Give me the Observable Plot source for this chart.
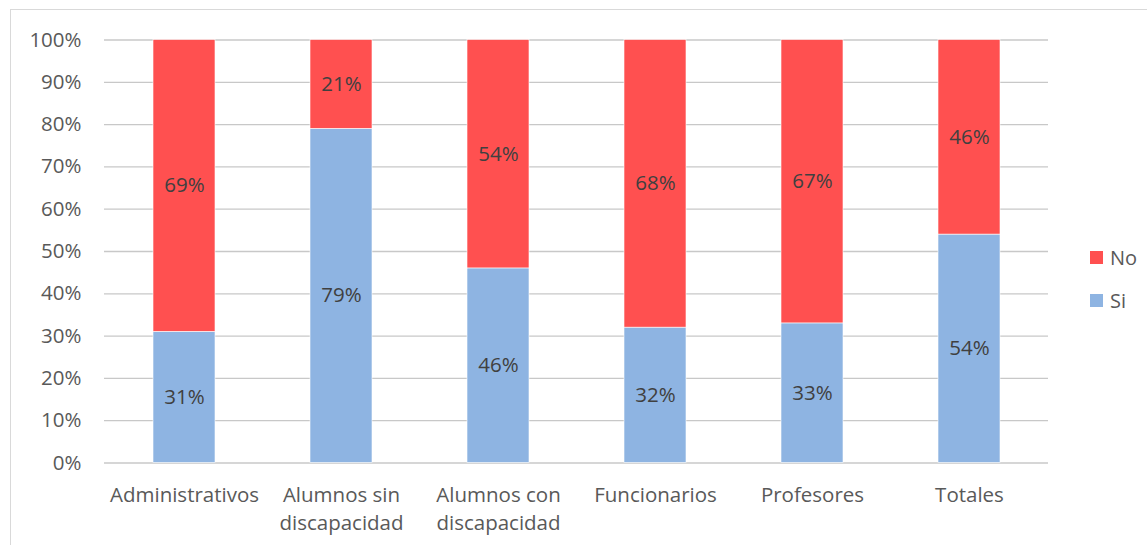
<!DOCTYPE html>
<html><head><meta charset="utf-8">
<script src="https://cdn.jsdelivr.net/npm/d3@7"></script>
<script src="https://cdn.jsdelivr.net/npm/@observablehq/plot@0.6"></script>
<style>
html,body{margin:0;padding:0;background:#fff;overflow:hidden;width:1147px;height:545px;}
#wrap{position:relative;width:1147px;height:545px;font-family:"Open Sans",sans-serif;}
#frame{position:absolute;left:10px;top:9px;width:1300px;height:700px;border:1px solid #d9d9d9;box-sizing:border-box;}
#chart{position:absolute;left:0;top:0;}
.leg{position:absolute;left:1090px;font-size:20px;color:#595959;display:flex;align-items:center;}
.leg span.sw{display:inline-block;width:13px;height:13px;margin-right:7px;}
</style></head>
<body><div id="wrap"><div id="frame"></div><div id="chart"></div>
<div class="leg" style="top:244px"><span class="sw" style="background:#FF5050"></span>No</div>
<div class="leg" style="top:287px"><span class="sw" style="background:#8EB4E2"></span>Si</div>
</div>
<script>
const categories = ["Administrativos","Alumnos sin discapacidad","Alumnos con discapacidad","Funcionarios","Profesores","Totales"];
const tickLabels = ["Administrativos","Alumnos sin\ndiscapacidad","Alumnos con\ndiscapacidad","Funcionarios","Profesores","Totales"];
const siValues = [31, 79, 46, 32, 33, 54];
const noValues = [69, 21, 54, 68, 67, 46];
const series = ["Si","No"];
const colors = ["#8EB4E2","#FF5050"];

const data = [];
categories.forEach((c,i)=>{
  data.push({cat:c, serie:"Si", value:siValues[i]/100});
  data.push({cat:c, serie:"No", value:noValues[i]/100});
});

const font = "'Open Sans', sans-serif";
const fs = 20.5;
const chart = Plot.plot({
  width:1147, height:545,
  marginLeft:104, marginRight:99, marginTop:39.5, marginBottom:82.5,
  style:{fontFamily:font, fontSize:fs+"px", color:"#595959", background:"transparent"},
  x:{domain:categories, paddingInner:0.606, paddingOuter:0.303, label:null},
  y:{domain:[0,1], label:null},
  color:{domain:series, range:colors},
  marks:[
    Plot.gridY({ticks:d3.range(0,1.01,0.1), stroke:"#c8c8c8", strokeOpacity:1, strokeWidth:1.3}),
    Plot.barY(data, Plot.stackY({x:"cat", y:"value", fill:"serie", order:series, stroke:"white", strokeWidth:0.6})),
    Plot.text(data, Plot.stackY({x:"cat", y:"value", z:"serie", order:series, text:d=>Math.round(d.value*100)+"%", fill:"#404040", fontSize:fs})),
    Plot.axisY({ticks:d3.range(0,1.01,0.1), tickFormat:d=>Math.round(d*100)+"%", tickSize:0, tickPadding:23, fill:"#595959", fontSize:fs}),
    Plot.axisX({tickSize:0, tickPadding:19, tickFormat:(d,i)=>tickLabels[categories.indexOf(d)], lineHeight:1.38, fill:"#595959", fontSize:fs})
  ]
});
document.getElementById("chart").appendChild(chart);
</script></body></html>
